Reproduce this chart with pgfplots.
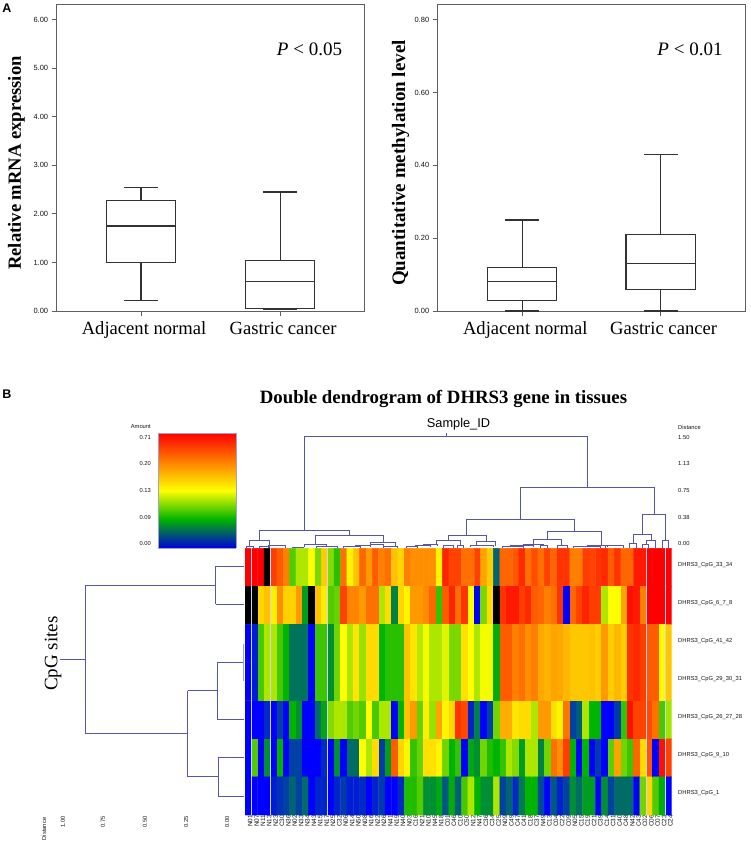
\documentclass[border=0pt]{standalone}
\usepackage{fontspec}
\setmainfont{Liberation Serif}
\newfontfamily\sansf{Liberation Sans}
\usepackage{pgfplots}
\usepgfplotslibrary{statistics}
\pgfplotsset{compat=1.18}
\definecolor{frameg}{RGB}{95,95,95}
\definecolor{boxk}{RGB}{50,50,50}
\definecolor{dendro}{RGB}{85,85,170}
\definecolor{txtk}{RGB}{20,20,20}
\pgfplotsset{
  colormap={hm}{rgb255(0pt)=(0,0,0) rgb255(9pt)=(0,0,0) rgb255(10pt)=(0,0,255) rgb255(35pt)=(0,180,0) rgb255(60pt)=(255,255,0) rgb255(110pt)=(255,0,0)},
  colormap={hmbar}{rgb255(0pt)=(0,0,220) rgb255(25pt)=(0,180,0) rgb255(50pt)=(255,255,0) rgb255(100pt)=(255,0,0)},
  boxpanel/.style={
    scale only axis, width=307.3pt, height=307pt,
    axis line style={draw=frameg,line width=0.9pt},
    tick style={draw=frameg,line width=0.9pt},
    tick align=outside, major tick length=5pt,
    xtick pos=bottom, ytick pos=left,
    xtick={1,2}, xticklabels={Adjacent normal,Gastric cancer},
    xticklabel style={font=\fontsize{18.6}{18.6}\selectfont, yshift=-2.5pt, xshift=3pt},
    yticklabel style={font=\sansf\fontsize{7.5}{8}\selectfont, text=txtk},
    /pgf/number format/assume math mode=true,
    /pgf/number format/fixed, /pgf/number format/fixed zerofill,
    /pgf/number format/precision=2,
    boxplot/draw direction=y,
    boxplot/box extend=0.5, boxplot/whisker extend=0.245,
    clip=false,
  },
  boxst/.style={draw=boxk,line width=1.05pt,solid},
}
\begin{document}
\begin{tikzpicture}
\useasboundingbox (0,0) rectangle (750pt,-845pt);

% Panel A left
\begin{axis}[boxpanel, at={(56.7pt,-311pt)}, anchor=south west,
  xmin=0.3935, xmax=2.604, ymin=0, ymax=6.32,
  ytick={0,1,2,3,4,5,6},
  ylabel={\textbf{Relative mRNA expression}},
  ylabel style={at={(axis description cs:-0.131,0.482)},anchor=center,font=\fontsize{18.6}{18.6}\selectfont}]
\addplot+[boxst, boxplot prepared={draw position=1, lower whisker=0.22, lower quartile=1.00, median=1.75, upper quartile=2.27, upper whisker=2.54}] coordinates {};
\addplot+[boxst, boxplot prepared={draw position=2, lower whisker=0.03, lower quartile=0.05, median=0.61, upper quartile=1.04, upper whisker=2.45}] coordinates {};
\end{axis}

% Panel A right
\begin{axis}[boxpanel, at={(437.7pt,-311pt)}, anchor=south west,
  xmin=0.3885, xmax=2.6105, ymin=0, ymax=0.8434,
  ytick={0,0.2,0.4,0.6,0.8},
  ylabel={\textbf{Quantitative methylation level}},
  ylabel style={at={(axis description cs:-0.121,0.482)},anchor=center,font=\fontsize{19}{19}\selectfont}]
\addplot+[boxst, boxplot prepared={draw position=1, lower whisker=0, lower quartile=0.03, median=0.08, upper quartile=0.12, upper whisker=0.25}] coordinates {};
\addplot+[boxst, boxplot prepared={draw position=2, lower whisker=0, lower quartile=0.06, median=0.13, upper quartile=0.21, upper whisker=0.43}] coordinates {};
\end{axis}

% Heat map
\begin{axis}[at={(245pt,-815pt)}, anchor=south west, scale only axis,
  width=426.7pt, height=266.7pt,
  xmin=-0.5, xmax=66.5, ymin=-6.5, ymax=0.5,
  axis line style={draw=none}, ytick=\empty,
  xtick={0,...,66}, major tick length=0pt,
  xtick pos=bottom,
  xticklabels={N01,N07,N11,N13,N23,C30,N36,N02,N33,N34,N43,N15,N17,N25,C32,N06,N14,N50,N08,N16,N22,N26,N41,N19,N40,N03,C16,N21,N10,N45,N18,C01,C46,C10,C50,N12,N47,C36,C34,C25,N09,C49,C47,C41,C18,C37,N49,C13,C04,C22,C09,N05,C15,C19,C21,C39,C14,C31,C40,C48,N42,C43,C02,C06,C07,C23,C24},
  xticklabel style={rotate=90, anchor=east, font=\sansf\fontsize{6.4}{6.5}\selectfont, text=txtk, inner sep=0pt, yshift=-2pt},
  colormap name=hm, point meta min=-10, point meta max=100]
\addplot[matrix plot*, mesh/cols=67, point meta=explicit]
 table[header=false, row sep=\\, x expr={\coordindex-67*floor((\coordindex+0.5)/67)}, y expr={-floor((\coordindex+0.5)/67)}, meta index=0]{100\\100\\100\\-5\\88\\82\\75\\33\\42\\42\\50\\37\\60\\38\\29\\78\\52\\62\\80\\70\\82\\75\\78\\62\\58\\75\\72\\72\\72\\72\\52\\93\\87\\87\\78\\78\\87\\68\\60\\14\\80\\80\\83\\92\\78\\85\\78\\87\\80\\90\\90\\75\\75\\88\\87\\90\\92\\82\\90\\80\\80\\95\\95\\100\\100\\100\\100\\-5\\-5\\58\\62\\53\\72\\59\\59\\70\\22\\-5\\62\\54\\33\\35\\87\\74\\74\\70\\78\\78\\42\\57\\18\\58\\52\\70\\70\\73\\80\\30\\82\\93\\78\\90\\50\\0\\37\\57\\-5\\90\\95\\95\\88\\92\\82\\80\\75\\78\\90\\0\\80\\87\\93\\88\\88\\42\\50\\50\\68\\97\\95\\75\\100\\100\\100\\100\\0\\4\\32\\42\\42\\32\\25\\16\\16\\16\\0\\31\\31\\20\\36\\50\\42\\55\\40\\57\\57\\25\\29\\29\\29\\62\\55\\43\\49\\42\\42\\47\\37\\37\\56\\50\\42\\49\\49\\24\\82\\82\\75\\78\\72\\75\\67\\65\\68\\67\\64\\61\\61\\61\\62\\60\\70\\60\\64\\60\\90\\92\\88\\82\\82\\51\\61\\0\\4\\32\\42\\42\\32\\25\\16\\16\\16\\0\\31\\31\\20\\36\\50\\42\\55\\40\\57\\57\\25\\29\\29\\29\\62\\55\\43\\49\\42\\42\\47\\37\\37\\56\\50\\42\\49\\49\\24\\82\\82\\75\\78\\72\\75\\67\\65\\68\\67\\64\\61\\61\\61\\62\\60\\70\\60\\64\\60\\90\\92\\88\\82\\82\\51\\61\\0\\0\\0\\6\\0\\9\\0\\25\\20\\0\\0\\15\\23\\38\\42\\42\\33\\36\\33\\50\\32\\42\\42\\0\\25\\62\\70\\35\\53\\40\\68\\52\\58\\90\\86\\5\\18\\0\\9\\36\\66\\66\\55\\57\\57\\42\\70\\70\\56\\52\\77\\9\\13\\42\\25\\25\\0\\0\\8\\30\\97\\87\\87\\85\\78\\32\\41\\0\\33\\0\\20\\0\\25\\0\\9\\9\\0\\0\\0\\6\\0\\20\\0\\15\\15\\50\\42\\57\\8\\22\\82\\58\\52\\30\\35\\56\\56\\52\\36\\25\\30\\0\\23\\20\\36\\28\\25\\30\\42\\38\\22\\42\\42\\18\\36\\78\\72\\88\\25\\0\\25\\0\\8\\0\\34\\68\\36\\31\\80\\57\\83\\0\\97\\87\\0\\0\\0\\0\\4\\7\\9\\14\\9\\15\\0\\5\\5\\0\\5\\8\\4\\4\\6\\0\\5\\8\\0\\0\\6\\28\\28\\33\\20\\20\\23\\12\\24\\13\\32\\42\\25\\20\\20\\42\\9\\14\\6\\17\\25\\25\\10\\0\\12\\5\\9\\20\\15\\22\\22\\0\\20\\9\\15\\15\\15\\0\\36\\58\\33\\24\\0\\};
\addplot[draw=white!82!blue, line width=0.8pt, unbounded coords=jump] coordinates {
(0.5,0.5)(0.5,-6.5)(nan,nan)(3.5,0.5)(3.5,-6.5)(nan,nan)(12.5,0.5)(12.5,-6.5)(nan,nan)(62.5,0.5)(62.5,-6.5)(nan,nan)(65.5,0.5)(65.5,-6.5)};
\end{axis}

% Colour scale
\begin{axis}[at={(158pt,-548pt)}, anchor=south west, scale only axis,
  width=78pt, height=115pt, xmin=0, xmax=1, ymin=0, ymax=100,
  xtick=\empty, ytick=\empty, axis line style={draw=dendro!55,line width=0.5pt},
  view={0}{90}, colormap name=hmbar, point meta min=0, point meta max=100]
\addplot3[surf, shader=interp, mesh/cols=2, point meta=z] coordinates {(0,0,0)(1,0,0)(0,100,100)(1,100,100)};
\end{axis}

% Overlay in page pixels: dendrograms and annotations
\begin{axis}[at={(0pt,-845pt)}, anchor=south west, scale only axis,
  width=750pt, height=845pt, xmin=0, xmax=750, ymin=0, ymax=845, y dir=reverse,
  hide axis, clip=false]
\addplot[draw=dendro, line width=0.85pt, unbounded coords=jump] coordinates {
% left dendrogram
(60,659)(85.5,659)(nan,nan)
(215.5,566.7)(215.5,604.3)(nan,nan)(244,566.7)(215.5,566.7)(215.5,585.7)(85.5,585.7)(85.5,733.3)(187.5,733.3)(nan,nan)
(215.5,604.3)(244,604.3)(nan,nan)
(187.5,690.7)(187.5,776.7)(nan,nan)(187.5,690.7)(217.5,690.7)(nan,nan)
(243.5,662.3)(217.5,662.3)(217.5,719.3)(244,719.3)(nan,nan)
(187.5,776.7)(218.5,776.7)(nan,nan)(244,757.3)(218.5,757.3)(218.5,796)(244,796)(nan,nan)
% top dendrogram
(446,433)(446,436)(nan,nan)
(304.3,530.7)(304.3,436)(587,436)(587,487)(nan,nan)
(259.3,540.7)(259.3,530.7)(349.7,530.7)(349.7,535.3)(nan,nan)
(249.3,547)(249.3,540.7)(269.3,540.7)(269.3,547)(nan,nan)
(315.3,544.3)(315.3,535.3)(383.3,535.3)(383.3,542.3)(nan,nan)
(304.3,547)(304.3,544.3)(326.7,544.3)(326.7,547)(nan,nan)
(370,544)(370,542.3)(395,542.3)(395,546)(nan,nan)
(520.3,519.3)(520.3,487)(654,487)(654,514.3)(nan,nan)
(448.3,540)(448.3,535)(466.7,535)(466.7,519.3)(574,519.3)(574,531)(nan,nan)
(466.7,535)(486,535)(486,541)(nan,nan)
(436,545)(436,540)(460.7,540)(460.7,546)(nan,nan)
(476,546)(476,541)(495,541)(495,546)(nan,nan)
(547.3,539.3)(547.3,531)(601.3,531)(601.3,546)(nan,nan)
(533.7,545)(533.7,539.3)(561.7,539.3)(561.7,545)(nan,nan)
(642.3,534.3)(642.3,514.3)(665.3,514.3)(665.3,540.3)(nan,nan)
(633,543.7)(633,534.3)(651,534.3)(651,540.3)(nan,nan)
(629.7,548)(629.7,543.7)(636.7,543.7)(636.7,548)(nan,nan)
(646,544)(646,540.3)(655.7,540.3)(655.7,548)(nan,nan)
(642.7,548)(642.7,544)(648.7,544)(648.7,548)(nan,nan)
(662,548)(662,540.3)(668.7,540.3)(668.7,548)(nan,nan)
% low merges
(246,548)(246,546)(253,546)(253,548)(nan,nan)
(259,548)(259,546)(269,546)(269,548)(nan,nan)
(268,547.5)(268,545.5)(285,545.5)(285,547.5)(nan,nan)
(292,548)(292,547)(303,547)(303,548)(nan,nan)
(316,548)(316,546.5)(337,546.5)(337,548)(nan,nan)
(343,548)(343,546)(360,546)(360,548)(nan,nan)
(355,547)(355,545)(370,545)(370,547)(nan,nan)
(370.7,547)(370.7,544)(383,544)(383,547)(nan,nan)
(383,548)(383,546)(397,546)(397,548)(nan,nan)
(406,548)(406,546.5)(417,546.5)(417,548)(nan,nan)
(415,547)(415,545.5)(430,545.5)(430,547)(nan,nan)
(423,546)(423,544.3)(437,544.3)(437,546)(nan,nan)
(443,548)(443,545.7)(453,545.7)(453,548)(nan,nan)
(457,548)(457,545.7)(463,545.7)(463,548)(nan,nan)
(470,547)(470,545)(493,545)(493,547)(nan,nan)
(502,548)(502,546)(523,546)(523,548)(nan,nan)
(510,547)(510,545)(533,545)(533,547)(nan,nan)
(523,546)(523,544.7)(543,544.7)(543,546)(nan,nan)
(540,548)(540,545)(547,545)(547,548)(nan,nan)
(557,548)(557,545)(567,545)(567,548)(nan,nan)
(573,548)(573,546)(600,546)(600,548)(nan,nan)
(587,547)(587,545)(607,545)(607,547)(nan,nan)
(605,548)(605,545.5)(623,545.5)(623,548)
};
\addplot[draw=gray!70, line width=0.8pt] coordinates {(243.5,644)(243.5,680.7)};

\def\tsmall{\sansf\fontsize{5.8}{7}\selectfont\color{txtk}}
% panel letters
\node[anchor=center,font=\sansf\bfseries\fontsize{12.5}{13}\selectfont] at (axis cs:7,8.5) {A};
\node[anchor=center,font=\sansf\bfseries\fontsize{12.5}{13}\selectfont] at (axis cs:7,394.5) {B};
% P values
\node[anchor=center,font=\fontsize{19}{19}\selectfont] at (axis cs:309.5,49) {\textit{P} < 0.05};
\node[anchor=center,font=\fontsize{19}{19}\selectfont] at (axis cs:690,49) {\textit{P} < 0.01};
% titles
\node[anchor=center,font=\bfseries\fontsize{18.8}{19}\selectfont] at (axis cs:443.5,398.5) {Double dendrogram of DHRS3 gene in tissues};
\node[anchor=center,font=\sansf\fontsize{12.8}{14}\selectfont] at (axis cs:458.5,424) {Sample\_ID};
\node[anchor=center,rotate=90,font=\fontsize{19}{21}\selectfont] at (axis cs:53,653.5) {CpG sites};
% colour scale labels
\node[anchor=east,font=\tsmall,inner sep=0pt] at (axis cs:151,427) {Amount};
\node[anchor=east,font=\tsmall,inner sep=0pt] at (axis cs:151,437) {0.71};
\node[anchor=east,font=\tsmall,inner sep=0pt] at (axis cs:151,463) {0.20};
\node[anchor=east,font=\tsmall,inner sep=0pt] at (axis cs:151,490) {0.13};
\node[anchor=east,font=\tsmall,inner sep=0pt] at (axis cs:151,517) {0.09};
\node[anchor=east,font=\tsmall,inner sep=0pt] at (axis cs:151,543) {0.00};
% distance, top
\node[anchor=west,font=\tsmall,inner sep=0pt] at (axis cs:678,427) {Distance};
\node[anchor=west,font=\tsmall,inner sep=0pt] at (axis cs:678,437) {1.50};
\node[anchor=west,font=\tsmall,inner sep=0pt] at (axis cs:678,463) {1.13};
\node[anchor=west,font=\tsmall,inner sep=0pt] at (axis cs:678,490) {0.75};
\node[anchor=west,font=\tsmall,inner sep=0pt] at (axis cs:678,517) {0.38};
\node[anchor=west,font=\tsmall,inner sep=0pt] at (axis cs:678,543) {0.00};
% row labels
\node[anchor=west,font=\tsmall,inner sep=0pt] at (axis cs:678,565) {DHRS3\_CpG\_33\_34};
\node[anchor=west,font=\tsmall,inner sep=0pt] at (axis cs:678,603) {DHRS3\_CpG\_6\_7\_8};
\node[anchor=west,font=\tsmall,inner sep=0pt] at (axis cs:678,641) {DHRS3\_CpG\_41\_42};
\node[anchor=west,font=\tsmall,inner sep=0pt] at (axis cs:678,679) {DHRS3\_CpG\_29\_30\_31};
\node[anchor=west,font=\tsmall,inner sep=0pt] at (axis cs:678,717) {DHRS3\_CpG\_26\_27\_28};
\node[anchor=west,font=\tsmall,inner sep=0pt] at (axis cs:678,755) {DHRS3\_CpG\_9\_10};
\node[anchor=west,font=\tsmall,inner sep=0pt] at (axis cs:678,793) {DHRS3\_CpG\_1};
% distance, bottom
\node[anchor=center,rotate=90,font=\tsmall,inner sep=0pt] at (axis cs:44,829) {Distance};
\node[anchor=center,rotate=90,font=\tsmall,inner sep=0pt] at (axis cs:63,822) {1.00};
\node[anchor=center,rotate=90,font=\tsmall,inner sep=0pt] at (axis cs:103,822) {0.75};
\node[anchor=center,rotate=90,font=\tsmall,inner sep=0pt] at (axis cs:145,822) {0.50};
\node[anchor=center,rotate=90,font=\tsmall,inner sep=0pt] at (axis cs:186,822) {0.25};
\node[anchor=center,rotate=90,font=\tsmall,inner sep=0pt] at (axis cs:227,822) {0.00};
\end{axis}
\end{tikzpicture}
\end{document}
